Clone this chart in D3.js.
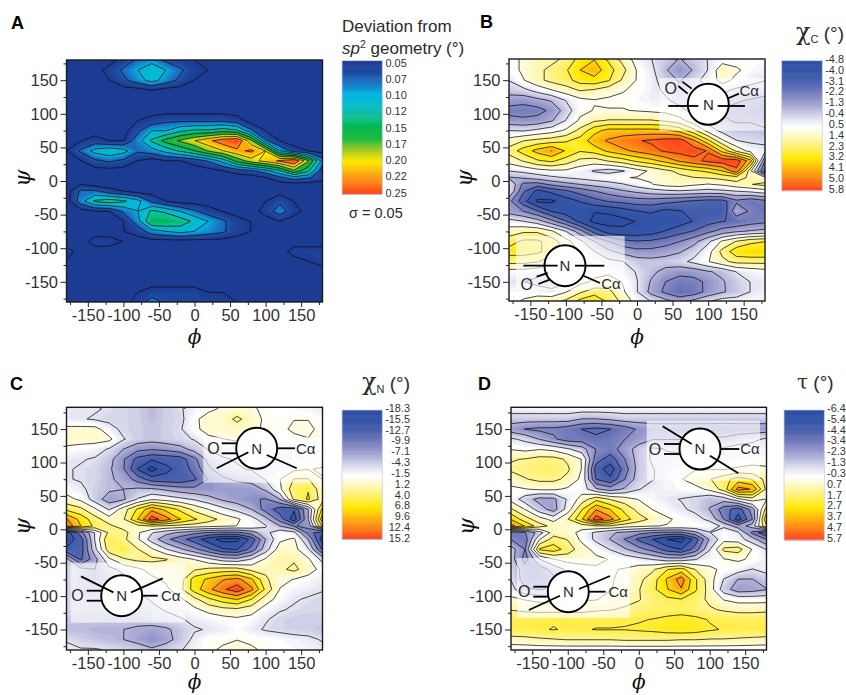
<!DOCTYPE html>
<html><head><meta charset="utf-8">
<script src="https://cdn.jsdelivr.net/npm/d3@7"></script>
<style>
html,body{margin:0;padding:0;background:#fff}
svg{display:block}
text{font-family:"Liberation Sans",Arial,sans-serif;fill:#2b2b2b}
</style></head><body>
<svg id="fig" width="846" height="695"></svg>
<script>
const phiGrid=[-180,-160,-140,-120,-100,-80,-60,-40,-20,0,20,40,60,80,100,120,140,160,180];
const psiGrid=[180,165,150,135,120,105,90,75,60,45,30,15,5,-5,-15,-30,-45,-60,-75,-90,-105,-120,-135,-150,-165,-180];
const axisTicks=[-150,-100,-50,0,50,100,150];
const minorTicks=[-175,-125,-75,-25,25,75,125,175];

// Panel A: deviation from sp2 geometry, in hundredths of a degree
const devGrid=[
[4,4,4,4,6,8,9,7,6,5,5,5,5,4,4,4,4,4,4],
[4,4,4,6,8,10,12,10,8,6,5,4,4,4,4,4,4,4,4],
[4,4,4,5,7,9,11,9,7,5,4,4,4,4,4,4,4,4,4],
[4,4,4,4,4,4,5,4,4,4,4,4,4,4,4,4,4,4,4],
[4,4,4,4,4,4,4,4,4,4,4,4,4,4,4,4,4,4,4],
[4,4,4,4,4,4,4,4,4,4,4,4,4,4,4,4,4,4,4],
[4,4,4,4,4,5,6,7,7,7,7,7,6,4,4,4,4,4,4],
[4,4,4,4,4,7,10,10,12,13,13,14,13,8,5,4,4,4,4],
[4,5,6,5,5,9,13,16,18,20,22,24,25,18,8,5,4,4,4],
[5,8,11,12,11,8,9,11,13,15,18,20,22,23,20,10,6,5,4],
[4,5,7,8,7,5,4,5,5,6,8,11,16,19,21,23,25,18,9],
[4,4,4,4,4,4,4,4,4,4,4,5,6,7,9,12,17,13,6],
[4,4,4,4,4,4,4,4,4,4,4,4,4,4,5,7,9,8,6],
[5,5,4,4,4,4,4,4,4,4,4,4,4,4,4,4,4,4,4],
[4,8,8,6,5,4,4,4,4,4,4,4,4,4,4,4,4,4,4],
[4,9,13,14,13,11,7,5,4,4,4,4,4,4,5,7,5,4,4],
[4,4,5,5,8,10,13,12,10,8,6,5,4,4,6,9,6,4,4],
[4,4,4,4,5,9,15,15,14,12,10,8,6,5,4,5,4,4,4],
[4,4,4,4,5,6,9,10,11,10,9,8,6,5,4,4,4,4,4],
[4,4,6,6,5,4,4,4,4,4,4,4,4,4,4,4,4,4,4],
[6,4,4,4,4,4,4,4,4,4,4,4,4,4,4,4,6,6,6],
[5,4,4,4,4,4,4,4,4,4,4,4,4,4,4,4,4,5,6],
[4,4,4,4,4,4,4,4,4,4,4,4,4,4,4,4,4,4,4],
[4,4,4,4,4,4,4,4,4,4,4,4,4,4,4,4,4,4,4],
[4,4,4,4,4,5,6,6,6,6,5,5,4,4,4,4,4,4,4],
[4,4,4,4,4,6,9,7,6,6,6,6,5,4,4,4,4,4,4]];

// Panel B: chi-C
const chiCGrid=[
[0.5,1,1.5,1.5,2,3,3.5,2.5,1.5,0.5,0,-0.5,-1,-0.5,0,0.5,0.5,0.5,0.5],
[0.5,1,1.5,2,2.5,3.5,4,3,2,0.8,0.2,-0.8,-1.6,-0.8,0,1.5,1,0.5,0.3],
[0,0.8,1.5,2,2.3,3,3.2,2.7,1.6,0.8,0.3,-0.5,-1,-0.3,0.3,1.2,0.6,0.2,0],
[-0.5,-0.3,0.3,0.8,1.3,1.8,1.6,1.2,0.9,0.7,0.3,-0.2,-0.6,-0.3,0,0.2,-0.2,-0.3,-0.5],
[-1.4,-1.5,-1.2,-0.8,0,0.6,0.8,0.7,0.7,0.5,0.3,0.1,-0.3,-0.4,-0.4,-0.6,-0.8,-1,-1.2],
[-2.1,-2.2,-2.1,-1.6,-0.5,0.6,0.9,0.9,0.9,0.8,0.7,0.6,0.2,-0.3,-0.7,-1,-1.2,-1.3,-1.6],
[-1.5,-1.6,-1.5,-1,0,1,1.6,1.8,1.8,1.8,1.8,1.6,1.2,0.3,-0.4,-0.8,-1,-1,-1.2],
[0,-0.1,0.2,0.5,1,2,3.2,3.8,3.8,3.8,3.8,3.7,3.2,2,0.5,-0.3,-0.6,-0.6,-0.8],
[1.2,1.7,2,2.2,2.5,3,4,4.5,4.9,5.2,5.4,5.6,5.7,4.5,2.8,1,0,-0.2,-0.2],
[2.1,3,3.8,4.4,3.4,2.7,3,3.7,4.2,4.6,5,5.4,5.6,5.7,5.2,3.2,1.5,0.5,0.2],
[1.2,1.8,2.5,2.8,2.2,1.5,1.3,1.8,2.2,2.8,3.2,3.8,4.5,5,5.5,5.8,5.8,3.8,-1.8],
[0,0.2,0.5,0.7,0.7,0.3,-0.1,-0.4,-0.1,0.5,1,1.5,2,2.5,2.8,3.5,5,1,-3],
[-1,-0.8,-0.5,-0.2,0,0.2,0.4,0.6,0.8,0.9,1,1.2,1.5,1.7,1.8,2,2.2,1.5,1],
[0,-2,-2.2,-1.6,-1.2,-0.9,-0.6,-0.4,-0.1,0.4,0.8,1.2,1.3,1,0.8,1,1.4,1.7,2],
[0,-2.5,-3.8,-3.3,-2.8,-2.3,-1.8,-1.4,-1,-0.7,-0.4,-0.2,-0.1,-0.2,-0.3,-0.2,0,0.2,0.5],
[-1.5,-3.2,-4.6,-4.6,-4,-3.5,-3,-2.6,-2.4,-2.2,-2.2,-2.4,-2.6,-2.8,-3,-3,-2,-2.4,-2],
[-1.3,-1.8,-2.6,-3.6,-4,-4.2,-4.4,-4.3,-4,-3.6,-3.4,-3.8,-3.6,-3.4,-3.4,-3.5,-1,-2,-2.4],
[0.3,0,-0.5,-1.5,-2.6,-3.8,-4.7,-4.8,-4.7,-4.4,-4.2,-4.1,-4,-3.5,-3,-2.7,-2.6,-2.2,-2],
[1.3,1.6,1.6,1,0,-1.4,-3,-4,-4.2,-4.2,-4,-3.5,-3,-2.6,-2,-1.4,-1,-0.8,-0.6],
[2.2,2.8,2.8,2.2,1.2,0.2,-0.9,-1.8,-2.4,-2.6,-2.5,-2.2,-1.8,-1.2,-0.2,1,1.8,2.4,2.6],
[3,3,2.8,2.2,1.5,0.8,0,-0.7,-1.2,-1.5,-1.5,-1.3,-1,-0.4,0.5,2,3.2,3.4,3.4],
[2,2,1.8,1.2,1,0.8,0.4,0.2,0,-0.5,-0.6,-0.5,-0.3,0.2,0.8,1.5,2,2,2],
[0.5,0.5,0.3,-0.2,0,0.4,0.6,0.7,0.4,-0.1,-0.7,-1.2,-1.5,-1.4,-1,-0.7,0,0.3,0.5],
[0,0,-0.3,-0.7,-0.2,0.6,1,1.2,0.8,0,-1,-1.8,-2.2,-2.1,-1.6,-1,-0.5,0,0.2],
[0.5,0.5,0.4,0.3,0.8,1.6,2.2,2,1,0,-1.2,-2,-2.6,-2.3,-1.5,-1,-0.6,0,0.3],
[0.5,1,1.5,1.5,2,3,3.5,2.5,1.5,0.5,0,-0.5,-1,-0.5,0,0.5,0.5,0.5,0.5]];

// Panel C: chi-N
const chiNGrid=[
[-2.5,-3,-3,-3.5,-4,-4.5,-5.5,-4.5,-3.5,-2,-1,0,0.6,0,-1,-1.5,-1.5,-2,-2.5],
[-2.5,-3,-3.5,-4,-4,-4.5,-5.5,-4.5,-4,-1,0.8,1,3,1,-1,-1,-0.5,-0.5,-1.5],
[0.3,0.5,0.5,-2,-4,-4.5,-5,-4.5,-3.5,-1,0.5,0.8,1,0.5,-1,-1,0,0,-1],
[0.7,0.7,0.7,0.2,-3,-4.5,-5,-4.5,-4,-3,-1,-0.5,0,-0.5,-1.5,-1.5,-1,-0.5,-0.5],
[-1,-1.5,-2,-3.5,-6,-8,-8.5,-8,-7,-5,-3,-2.2,-2,-2.2,-2.5,-2.5,-2,-1.5,-1.5],
[-2.5,-3,-3.5,-5,-8.5,-12.5,-14,-13.5,-13,-9.5,-5,-3.5,-3,-3,-3,-2.8,-2,-1.5,-1],
[-3,-3.5,-4,-5.5,-8.5,-14.5,-18.3,-15,-13.5,-10.5,-6.5,-4.5,-3.5,-3,-2.8,-2,-1,-0.5,-0.3],
[-3,-3.5,-4,-5.5,-7,-10,-13,-13.5,-13.5,-12,-8.5,-6.5,-5.5,-5,-3,-0.5,2.5,2.5,-0.5],
[-1.5,-2.5,-4.5,-5.5,-6,-5.5,-5.5,-6.5,-7.5,-8,-8,-7.5,-7.5,-7.5,-5.5,-1,4,5,0.5],
[0.5,-1,-4.5,-7.5,-6.5,-3,-0.8,-1.5,-2.5,-3.5,-5,-6.5,-7.5,-8.5,-9,-6,3,5.5,1],
[4.5,3,0,-3.5,1,5.5,10,7,4.5,1.5,-0.5,-2.5,-4,-6,-10,-13,-14,-6,6],
[11,7,3.5,0.8,2,8,15,12,8,5.5,3.5,1.5,0,-2,-5,-10,-16,-6,10],
[13,8,4.5,3,1,1.5,2.5,2,1.5,1,0.5,0,-0.5,-1,-3,-6,-9,-8,6],
[-16,-10,-3,3,3.5,0,-3,-5,-6.5,-8,-9,-9.5,-9.5,-7.5,-4,-1.5,-2.5,-10,-14],
[-16,-13,-3,5,3,0,-4.5,-8,-10.5,-13,-16,-18.3,-18,-13.5,-6,-1,0,-6,-16],
[-14,-13,-4,4,5,2.5,0,-3,-5.5,-8,-11,-14,-14.5,-10.5,-4.5,1,0.5,-3,-12],
[-5,-12,-7,-1,2,3,3,2.5,1,-0.5,-2.5,-4.5,-5,-3,0,2,2,0,-4],
[-3.5,-5,-6,-4,-2.5,-1,0.5,1,1.5,2,3,3.5,3.5,1.5,1.5,1.8,3,1,-1.5],
[-3.5,-5,-6,-5,-4,-2,-1,0,1,6.5,8.5,10.5,11.5,8.5,3,0,-0.5,-1.5,-2.5],
[-4,-5,-5,-4.5,-4,-3,-2,-1,1.5,6.5,10,13,15.2,11.5,4.5,-0.5,-2,-2.5,-3],
[-4,-4.5,-4.5,-4.5,-4.5,-4,-3,-2,-1,1.5,4.5,6.5,8,5,0.8,-1.5,-3,-3.5,-4],
[-4,-4.5,-4.5,-4.5,-4.5,-4.5,-3.8,-3,-2.2,-1,0.5,1.5,1.8,0.8,-1.5,-3,-3.5,-4,-4],
[-5,-5,-5,-5,-5,-5,-4.5,-4,-3.5,-2.5,-2,-1.5,-1,-1.5,-3,-4,-4.5,-4.5,-4.5],
[-5.5,-5.5,-6,-6,-6,-6.5,-7,-6.5,-5,-3.5,-3,-2.5,-1.5,-2.5,-3.5,-4,-4.5,-4.5,-5],
[-3.5,-4.5,-5,-5.5,-6,-7,-8.5,-7,-5,-2.5,-1,-1,-0.5,-1,-1,-1.5,-2,-2.5,-3.5],
[-2.5,-3,-3,-3.5,-4,-4.5,-5.5,-4.5,-3.5,-2,-1,0,0.6,0,-1,-1.5,-1.5,-2,-2.5]];

// Panel D: tau
const tauGrid=[
[-0.5,-0.5,-0.5,-0.5,-0.5,-0.5,-0.5,-0.5,-0.5,-0.5,-0.5,-0.5,-0.5,-0.5,-0.5,-0.5,-0.5,-0.5,-0.5],
[-1.5,-1.5,-1.5,-1.5,-1.5,-2,-2,-1.8,-1.5,-1.5,-1.5,-1.5,-1.5,-1.5,-1.5,-1.5,-1.5,-1.5,-1.5],
[-2.5,-3,-3.2,-3.2,-3.5,-4,-4.2,-4,-3.5,-2.8,-2.5,-2.5,-2.5,-2.5,-2.5,-2.6,-2.5,-2.5,-2.5],
[-0.8,-1.2,-2,-2.8,-3.5,-3.5,-3.8,-3.5,-3,-2.5,-2,-2,-2,-2,-1.8,-1.8,-1.5,-1.2,-0.8],
[0,-0.2,0,-0.2,-0.8,-1.5,-3,-3.4,-2.5,-1.5,-0.8,-1,-1.2,-1,-1,-0.8,-0.5,-0.5,-0.5],
[1,1.1,1.4,1.4,0.9,0,-3.5,-4.5,-3,-1.5,-0.8,-0.8,-0.6,-0.5,-0.6,-0.7,-0.5,-0.3,-0.3],
[1.2,1.4,1.6,1.6,1.2,0,-4.5,-5.5,-3.5,-1.5,-1,-0.6,-0.2,0,0,0,0.2,0.3,0.2],
[0.6,1,1.3,1.3,0.8,-0.2,-4,-4.8,-3,-1.4,-1,-0.5,0,0.6,1,1.7,2.5,2,0.7],
[-0.2,0,0.2,0.2,-0.1,-0.4,-1.8,-2.4,-1.8,-1,-0.6,-0.5,-0.3,-0.3,0.3,1.5,4.5,4,0.8],
[-0.3,-1.5,-2.3,-2.2,-0.8,0.5,1.8,1,0.5,0,-0.4,-0.8,-1,-1.2,-1.8,-1.5,-0.2,0.6,0],
[1.2,0,-1.5,-2.4,-0.5,2,4,3,1.8,0.7,0,-0.4,-0.8,-1.2,-2,-3.5,-4.5,-2.5,1.5],
[3,1.5,0.5,-0.3,1,3,5.7,4.5,2.5,1.5,0.8,0.2,-0.2,-0.6,-1.2,-3,-5.5,-3,3],
[4.5,3,1.5,0.7,0.4,0.5,1,1,0.5,0.3,0.1,0,-0.1,-0.2,-0.4,-1.2,-2.5,-1.5,2],
[-4,-3,-1.5,0.6,0.5,-0.3,-1.2,-1.8,-2.2,-2.6,-3,-3.2,-3.2,-2.2,-1,-0.2,-0.8,-3.2,-5],
[-3,-3.5,0,1.5,1,-0.2,-1.2,-2,-3,-4.2,-5,-6,-6.4,-4.5,-1.8,-0.3,-0.5,-1.5,-3],
[-1.5,-3,2.2,2.6,1.6,0.5,-0.3,-1,-1.8,-2.6,-3.4,-4.5,-5,-3.5,-1,1.3,1.5,0,-1],
[-1.5,-3.4,-1,0,0.4,0.4,0.3,0,-0.3,-0.6,-1,-1.5,-1.5,-1,-0.5,0,0.2,-0.1,-0.6],
[-1.2,-2.5,-2.5,-1.6,-0.7,-0.3,-0.1,0,0.1,0.5,0.9,2,2.5,1,0.3,-0.2,-0.5,-1,-0.6],
[-1,-2.5,-2.5,-2.2,-1.2,-0.8,-0.5,0,0.2,0.8,1.6,3.2,4.6,2.2,0.5,-1,-2,-2,-1.5],
[-0.6,-1.8,-2,-1.8,-1.2,-0.7,-0.4,0,0.4,1,1.8,3,4,2.2,0.6,-1.5,-2.5,-2.4,-2],
[0.3,0,-0.2,-0.4,-0.3,-0.1,0,0.4,0.7,1,1.5,1.8,2,1.6,0.8,0,-0.3,-0.3,-0.3],
[1,0.8,0.7,0.7,0.7,0.7,0.9,1,1.2,1.4,1.6,1.6,1.7,1.5,1.2,0.9,0.7,0.7,0.8],
[1.8,1.9,1.9,2,2,1.9,1.9,1.9,2,2,2.1,2.3,2.4,2.3,2,1.9,1.8,1.8,1.8],
[2,2,2,2.1,2,2,2.1,2.1,2.1,2.2,2.3,2.5,2.6,2.5,2.2,2,2,2,2],
[0.6,0.7,0.9,1,1.1,1.1,1.1,1.1,1.2,1.2,1.2,1.2,1.1,1.1,1,1,0.9,0.8,0.7],
[-0.5,-0.5,-0.5,-0.5,-0.5,-0.5,-0.5,-0.5,-0.5,-0.5,-0.5,-0.5,-0.5,-0.5,-0.5,-0.5,-0.5,-0.5,-0.5]];

const devLabels=["0.05","0.07","0.10","0.12","0.15","0.17","0.20","0.22","0.25"];
const chiCLabels=["-4.8","-4.0","-3.1","-2.2","-1.3","-0.4","0.5","1.4","2.3","3.2","4.1","5.0","5.8"];
const chiNLabels=["-18.3","-15.5","-12.7","-9.9","-7.1","-4.3","-1.5","1.2","4.0","6.8","9.6","12.4","15.2"];
const tauLabels=["-6.4","-5.4","-4.4","-3.4","-2.3","-1.3","-0.3","0.7","1.7","2.7","3.7","4.7","5.7"];

const jetStops=["#1f3a93","#1e4ba0","#1a78c8","#00b8e0","#08bcc8","#10bf90","#00b84a","#20ba40","#a8cc20","#ffe800","#ffb010","#ff7a18","#ff3a20"];
const divStops=["#2c4ea3","#3555a8","#4f64b0","#7a80bd","#a5a5d2","#d5d5ea","#ffffff","#fff8b8","#fff060","#ffe800","#ffb010","#ff7a18","#ff3a20"];

const svg=d3.select("#fig");
const defs=svg.append("defs");
defs.append("filter").attr("id","soft").attr("x","-2%").attr("y","-2%").attr("width","104%").attr("height","104%")
  .append("feGaussianBlur").attr("stdDeviation",0.3);

function panel(o){
  const x=d3.scaleLinear().domain([-180,180]).range([o.x0,o.x1]);
  const y=d3.scaleLinear().domain([0,1]).range([o.y0,o.y0-o.k]);
  const values=o.grid.flat().map(v=>v*(o.factor||1));
  const n=phiGrid.length,m=psiGrid.length;
  const rowToPsi=d3.scaleLinear().domain(d3.range(m)).range(psiGrid);
  const colToPhi=d3.scaleLinear().domain(d3.range(n)).range(phiGrid);
  const color=d3.scaleLinear().domain(d3.range(o.stops.length).map(i=>o.min+(o.max-o.min)*i/(o.stops.length-1))).range(o.stops).clamp(true);
  const path=d3.geoPath(d3.geoTransform({point(a,b){this.stream.point(x(colToPhi(a-0.5)),y(rowToPsi(b-0.5)));}}));
  const g=svg.append("g");
  const id="clip"+o.name;
  defs.append("clipPath").attr("id",id).append("rect").attr("x",o.x0).attr("y",o.top).attr("width",o.x1-o.x0).attr("height",o.bottom-o.top);
  const plot=g.append("g").attr("clip-path",`url(#${id})`);
  const soft=plot.append("g").attr("filter","url(#soft)");
  soft.append("rect").attr("x",o.x0-2).attr("y",o.top-2).attr("width",o.x1-o.x0+4).attr("height",o.bottom-o.top+4).attr("fill",color(o.min));
  const fillLevels=d3.range(0,64).map(i=>o.min+(o.max-o.min)*i/64);
  const contours=d3.contours().size([n,m]).smooth(true);
  soft.selectAll("path.f").data(contours.thresholds(fillLevels)(values)).join("path").attr("class","f")
    .attr("d",path).attr("fill",d=>color(d.value)).attr("stroke",d=>color(d.value)).attr("stroke-width",0.3);
  const lineLevels=d3.range(0,o.nLines).map(i=>o.min+(o.max-o.min)*(i+(o.lineStart||0.4))/o.nLines);
  soft.selectAll("path.l").data(contours.thresholds(lineLevels)(values)).join("path").attr("class","l")
    .attr("d",path).attr("fill","none").attr("stroke","#111").attr("stroke-width",0.85).attr("stroke-opacity",0.9);

  // translucent boxes and Newman projections
  (o.boxes||[]).forEach(b=>{
    plot.append("rect").attr("x",b[0]).attr("y",b[1]).attr("width",b[2]-b[0]).attr("height",b[3]-b[1]).attr("fill","#fff").attr("fill-opacity",0.62);
  });
  (o.newman||[]).forEach(nm=>{
    const gg=g.append("g").attr("transform",`translate(${nm.c[0]},${nm.c[1]})`);
    gg.append("circle").attr("r",20.5).attr("fill","#fff").attr("stroke","#000").attr("stroke-width",1.9);
    nm.segs.forEach(s=>gg.append("line").attr("x1",s[0]/3).attr("y1",s[1]/3).attr("x2",s[2]/3).attr("y2",s[3]/3).attr("stroke","#000").attr("stroke-width",1.8));
    const lab=(t,p,fs)=>gg.append("text").attr("x",p[0]/3).attr("y",p[1]/3).attr("dy","0.36em").attr("text-anchor","middle").attr("font-size",fs).text(t);
    lab("N",[0,0],15); lab("O",nm.O,16);
    gg.append("text").attr("x",nm.Ca[0]/3).attr("y",nm.Ca[1]/3).attr("dy","0.36em").attr("text-anchor","middle").attr("font-size",15).text("Cα");
  });

  g.append("rect").attr("x",o.x0).attr("y",o.top).attr("width",o.x1-o.x0).attr("height",o.bottom-o.top).attr("fill","none").attr("stroke","#1a1a1a").attr("stroke-width",1.4);

  // axes
  const fmt=d=>String(d);
  const ax=d3.axisBottom(x).tickValues(axisTicks).tickSize(5).tickPadding(2).tickFormat(fmt);
  const axg=g.append("g").attr("transform",`translate(0,${o.bottom})`).call(ax);
  const ay=d3.axisLeft(y).tickValues(axisTicks).tickSize(6).tickPadding(2.5).tickFormat(fmt);
  const ayg=g.append("g").attr("transform",`translate(${o.x0},0)`).call(ay);
  const axm=d3.axisBottom(x).tickValues(minorTicks).tickSize(3).tickFormat("");
  const aym=d3.axisLeft(y).tickValues(minorTicks).tickSize(3).tickFormat("");
  g.append("g").attr("transform",`translate(0,${o.bottom})`).call(axm);
  g.append("g").attr("transform",`translate(${o.x0},0)`).call(aym);
  g.selectAll(".domain").remove();
  [axg,ayg].forEach(a=>a.selectAll("text").attr("font-size",16.5).attr("font-family",'"Liberation Sans",Arial,sans-serif').style("fill","#333"));
  g.selectAll(".tick line").attr("stroke","#222");

  // titles
  g.append("text").attr("x",x(0)).attr("y",o.phiY).attr("text-anchor","middle").attr("font-size",20).style("font-family",'"DejaVu Serif",serif').style("font-style","italic").style("fill","#111").text("ϕ");
  g.append("text").attr("transform",`translate(${o.x0-37},${y(0)-3}) rotate(-90)`).attr("text-anchor","middle").attr("font-size",22).style("font-family",'"DejaVu Serif",serif').style("font-style","italic").style("fill","#111").text("ψ");
  g.append("text").attr("x",o.letter[0]).attr("y",o.letter[1]).attr("font-size",18).attr("font-weight","bold").style("fill","#000").text(o.name);

  // colour bar
  const bar=g.append("g");
  const sy=d3.scaleLinear().domain([o.min,o.max]).range([o.bar[1],o.bar[3]]);
  const steps=d3.range(0,72).map(i=>o.min+(o.max-o.min)*i/72);
  bar.selectAll("rect").data(steps).join("rect").attr("x",o.bar[0]).attr("width",o.bar[2]-o.bar[0])
    .attr("y",d=>sy(d)).attr("height",(o.bar[3]-o.bar[1])/72+0.5).attr("fill",d=>color(d));
  bar.append("rect").attr("x",o.bar[0]).attr("y",o.bar[1]).attr("width",o.bar[2]-o.bar[0]).attr("height",o.bar[3]-o.bar[1]).attr("fill","none").attr("stroke","#c8d0e8").attr("stroke-width",0.8);
  const ly=d3.scalePoint().domain(o.labels).range(o.labelY);
  g.selectAll("text.cb").data(o.labels).join("text").attr("class","cb")
    .attr("x",o.labelX).attr("y",d=>ly(d)).attr("dy","0.36em").attr("text-anchor",o.labelAnchor).attr("font-size",10.9).style("fill","#333").text(d=>d);
}

panel({name:"A",grid:devGrid,factor:0.01,min:0.05,max:0.25,stops:jetStops,nLines:8,lineStart:0.02,
  x0:66.5,x1:322.5,y0:181,k:0.672,top:60,bottom:302,phiY:344,letter:[11,29],
  bar:[342,60.7,382.3,194.3],labels:devLabels,labelY:[62.7,192.7],labelX:385.5,labelAnchor:"start"});
panel({name:"B",grid:chiCGrid,min:-4.8,max:5.8,stops:divStops,nLines:12,
  x0:509,x1:765,y0:181,k:0.672,top:59,bottom:301,phiY:344,letter:[480,28],
  bar:[781.7,60.7,822.3,190.7],labels:chiCLabels,labelY:[59,189],labelX:844,labelAnchor:"end",
  boxes:[[659.3,78,764,130.7],[516,236,624.7,290]],
  newman:[
   {c:[708.3,104.3],O:[-113,-47],Ca:[123,-40],segs:[[-120,5,-30,5],[28,5,110,5],[-90,-55,-62,-32],[-78,-68,-50,-47],[60,-18,92,-32]]},
   {c:[565,265.7],O:[-115,55],Ca:[138,55],segs:[[-125,0,-22,0],[30,0,118,0],[-85,33,-52,22],[-80,55,-46,42],[55,30,105,52]]}]});
panel({name:"C",grid:chiNGrid,min:-18.3,max:15.2,stops:divStops,nLines:12,
  x0:66.5,x1:322.5,y0:529.3,k:0.668,top:407.3,bottom:650,phiY:689,letter:[10,390],
  bar:[342,410,382.3,539.3],labels:chiNLabels,labelY:[408,538],labelX:410,labelAnchor:"end",
  boxes:[[203.3,437,321.7,482.7],[70.7,562.7,185.3,622.7]],
  newman:[
   {c:[256.7,448.3],O:[-130,0],Ca:[147,0],segs:[[-105,-15,-62,-15],[-105,15,-62,15],[60,0,115,0],[-120,60,-25,12],[120,60,30,20]]},
   {c:[121.7,595.7],O:[-133,0],Ca:[147,0],segs:[[-105,-15,-62,-15],[-105,15,-62,15],[60,0,108,0],[-122,-58,-25,-10],[123,-52,28,-10]]}]});
panel({name:"D",grid:tauGrid,min:-6.4,max:5.7,stops:divStops,nLines:12,
  x0:511,x1:766.5,y0:529.3,k:0.668,top:407.3,bottom:650,phiY:689,letter:[478,390],
  bar:[784,410,824.3,540],labels:tauLabels,labelY:[408,538],labelX:827,labelAnchor:"start",
  boxes:[[646.7,420.7,760,480.7],[517,558,630,618]],
  newman:[
   {c:[700,449],O:[-135,0],Ca:[150,0],segs:[[-108,-15,-60,-15],[-108,15,-60,15],[60,0,118,0],[-112,-68,-25,-15],[115,73,30,20]]},
   {c:[568.3,591.7],O:[-132,0],Ca:[150,0],segs:[[-105,-15,-60,-15],[-105,15,-60,15],[60,0,112,0],[125,-47,32,-8],[-118,55,-25,12]]}]});

// Legend headers
const hdr=(x,y,parts)=>{
  const t=svg.append("text").attr("x",x).attr("y",y).attr("font-size",17);
  parts.forEach(p=>{const s=t.append("tspan").text(p.t);
    if(p.i)s.style("font-style","italic");
    if(p.serif)s.style("font-family",'"DejaVu Serif","Liberation Serif",serif').attr("font-size",p.fs||24);
    if(p.dy)s.attr("dy",p.dy);
    if(p.fs&&!p.serif)s.attr("font-size",p.fs);});
};
hdr(342,32,[{t:"Deviation from"}]);
hdr(342,54,[{t:"sp",i:1},{t:"2",fs:10.5,dy:-6},{t:" geometry (°)",dy:6}]);
svg.append("text").attr("x",349).attr("y",218).attr("font-size",14.5).text("σ = 0.05");
hdr(796,40,[{t:"χ",serif:1},{t:"C",fs:11,dy:3},{t:" (°)",fs:19,dy:-3}]);
hdr(362,390,[{t:"χ",serif:1},{t:"N",fs:11,dy:3},{t:" (°)",fs:19,dy:-3}]);
hdr(797,389,[{t:"τ",serif:1,fs:20},{t:" (°)",fs:19}]);
</script></body></html>
